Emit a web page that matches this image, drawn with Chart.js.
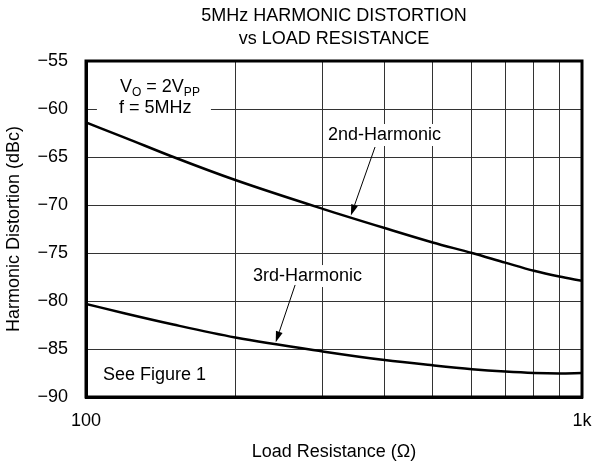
<!doctype html>
<html lang="en">
    <head>
        <meta charset="UTF-8" />
        <title>5MHz Harmonic Distortion vs Load Resistance</title>
        <style>
            html, body { margin: 0; padding: 0; background: #fff; }
            .chartBox { width: 592px; height: 467px; }
        </style>
    </head>
    <body>
        <div class="chartBox">
            <canvas id="myChart" width="592" height="467"></canvas>
        </div>

        <script src="https://cdn.jsdelivr.net/npm/chart.js"></script>
        <script>
            // data
            const resistance = [100, 120, 150, 200, 300, 400, 500, 600, 700, 800, 900, 1000];
            const harm2 = [-61.4, -63.0, -65.0, -67.4, -70.4, -72.4, -73.9, -75.0, -76.0, -76.85, -77.45, -77.9];
            const harm3 = [-80.3, -81.3, -82.45, -83.8, -85.25, -86.15, -86.7, -87.1, -87.35, -87.5, -87.55, -87.5];
            const xTicks = [100, 200, 300, 400, 500, 600, 700, 800, 900, 1000];
            const xTickLabels = { 100: "100", 1000: "1k" };

            const FONT = '"Liberation Sans", Arial, Helvetica, sans-serif';
            Chart.defaults.font.family = FONT;
            Chart.defaults.color = "#000";

            const toPoints = (ys) => resistance.map((r, i) => ({ x: r, y: ys[i] }));

            // plugin: frame, labels, arrows
            const annotations = {
                id: "annotations",
                afterDatasetsDraw(chart) {
                    const {
                        ctx,
                        chartArea: { left, top, right, bottom },
                        scales: { x, y },
                    } = chart;
                    const px = (v) => x.getPixelForValue(v);
                    const py = (v) => y.getPixelForValue(v);
                    ctx.save();
                    ctx.textBaseline = "alphabetic";
                    ctx.textAlign = "left";

                    // conditions box
                    ctx.fillStyle = "#fff";
                    ctx.fillRect(px(105.2), py(-55.94), px(178.6) - px(105.2), py(-61.25) - py(-55.94));
                    ctx.fillStyle = "#000";
                    let cx = px(117.1);
                    const base1 = py(-58.23);
                    const parts = [
                        ["V", 18, 0],
                        ["O", 12, 4],
                        [" = 2V", 18, 0],
                        ["PP", 12, 4],
                    ];
                    parts.forEach(([t, s, dy]) => {
                        ctx.font = s + "px " + FONT;
                        ctx.fillText(t, cx, base1 + dy);
                        cx += ctx.measureText(t).width;
                    });
                    ctx.font = "18px " + FONT;
                    ctx.fillText("f = 5MHz", px(116.6), py(-60.42));

                    // curve labels with white background
                    ctx.textBaseline = "middle";
                    const label = (text, xv, yv) => {
                        const w = ctx.measureText(text).width;
                        ctx.fillStyle = "#fff";
                        ctx.fillRect(px(xv) - 3, py(yv) - 11, w + 6, 22);
                        ctx.fillStyle = "#000";
                        ctx.fillText(text, px(xv), py(yv));
                    };
                    label("2nd-Harmonic", 307.5, -62.71);
                    label("3rd-Harmonic", 217, -77.4);
                    ctx.fillText("See Figure 1", px(108.2), py(-87.71));

                    // arrows
                    const arrow = (x1, y1, x2, y2) => {
                        const ax = px(x1), ay = py(y1), bx = px(x2), by = py(y2);
                        const ang = Math.atan2(by - ay, bx - ax);
                        const len = 11, hw = 3.5;
                        ctx.strokeStyle = "#000";
                        ctx.lineWidth = 1;
                        ctx.beginPath();
                        ctx.moveTo(ax, ay);
                        ctx.lineTo(bx - Math.cos(ang) * len, by - Math.sin(ang) * len);
                        ctx.stroke();
                        ctx.beginPath();
                        ctx.moveTo(bx, by);
                        ctx.lineTo(bx - Math.cos(ang) * len - Math.sin(ang) * hw, by - Math.sin(ang) * len + Math.cos(ang) * hw);
                        ctx.lineTo(bx - Math.cos(ang) * len + Math.sin(ang) * hw, by - Math.sin(ang) * len - Math.cos(ang) * hw);
                        ctx.closePath();
                        ctx.fill();
                    };
                    arrow(382.6, -63.96, 342, -71.1);
                    arrow(264, -78.33, 241.3, -84.3);

                    // frame
                    ctx.strokeStyle = "#000";
                    ctx.lineWidth = 3;
                    ctx.strokeRect(left, top, right - left, bottom - top);
                    ctx.restore();
                },
            };

            // config
            const config = {
                type: "scatter",
                data: {
                    datasets: [
                        {
                            label: "2nd-Harmonic",
                            data: toPoints(harm2),
                            showLine: true,
                            borderColor: "#000",
                            borderWidth: 2.5,
                            pointRadius: 0,
                            cubicInterpolationMode: "monotone",
                        },
                        {
                            label: "3rd-Harmonic",
                            data: toPoints(harm3),
                            showLine: true,
                            borderColor: "#000",
                            borderWidth: 2.5,
                            pointRadius: 0,
                            cubicInterpolationMode: "monotone",
                        },
                    ],
                },
                options: {
                    responsive: false,
                    animation: false,
                    devicePixelRatio: 1,
                    layout: { padding: { top: 1, right: 10, bottom: 0, left: 0 } },
                    plugins: {
                        legend: { display: false },
                        tooltip: { enabled: false },
                        title: {
                            display: true,
                            fullSize: false,
                            text: ["5MHz HARMONIC DISTORTION", "vs LOAD RESISTANCE"],
                            color: "#000",
                            font: { size: 18, weight: "normal", lineHeight: 1.25 },
                            padding: { top: 4, bottom: 11 },
                        },
                    },
                    scales: {
                        x: {
                            type: "logarithmic",
                            min: 100,
                            max: 1000,
                            afterBuildTicks(scale) {
                                scale.ticks = xTicks.map((v) => ({ value: v }));
                            },
                            afterFit(scale) {
                                scale.height = 70;
                                scale.paddingLeft = 0;
                                scale.paddingRight = 0;
                            },
                            ticks: {
                                autoSkip: false,
                                maxRotation: 0,
                                padding: 13,
                                font: { size: 18 },
                                callback: (v) => xTickLabels[v] || "",
                            },
                            grid: { color: "#333", lineWidth: 1, drawTicks: false },
                            border: { color: "#000", width: 3 },
                            title: {
                                display: true,
                                text: "Load Resistance (Ω)",
                                font: { size: 18 },
                                padding: { top: 0, bottom: 4 },
                            },
                        },
                        y: {
                            min: -90,
                            max: -55,
                            afterFit(scale) {
                                scale.width = 86;
                                scale.paddingTop = 0;
                                scale.paddingBottom = 0;
                            },
                            ticks: {
                                stepSize: 5,
                                padding: 18,
                                font: { size: 18 },
                                callback: (v) => "\u2212" + Math.abs(v),
                            },
                            grid: { color: "#333", lineWidth: 1, drawTicks: false },
                            border: { color: "#000", width: 3 },
                            title: {
                                display: true,
                                text: "Harmonic Distortion (dBc)",
                                font: { size: 18 },
                                padding: { top: 3, bottom: 0 },
                            },
                        },
                    },
                },
                plugins: [annotations],
            };

            // init
            var ctx = document.getElementById("myChart").getContext("2d");
            new Chart(ctx, config);
        </script>
    </body>
</html>
